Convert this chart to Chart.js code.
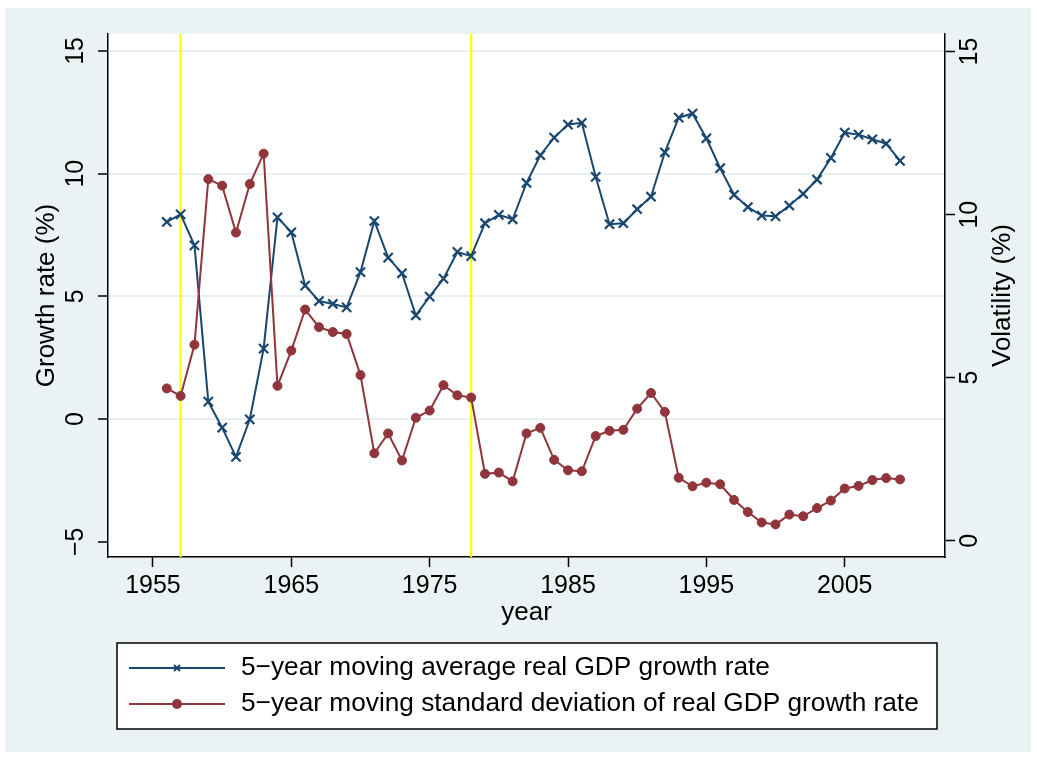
<!DOCTYPE html>
<html>
<head>
<meta charset="utf-8">
<script src="https://cdn.jsdelivr.net/npm/chart.js@4.4.1/dist/chart.umd.min.js"></script>
<style>
  html, body { margin: 0; padding: 0; background: #fff; }
  #wrap { width: 1037px; height: 758px; }
</style>
</head>
<body>
<div id="wrap"><canvas id="gdp" width="1037" height="758"></canvas></div>
<script>
// Years covered by the moving-window statistics
const years = [
  1956, 1957, 1958, 1959, 1960, 1961, 1962, 1963, 1964, 1965,
  1966, 1967, 1968, 1969, 1970, 1971, 1972, 1973, 1974, 1975,
  1976, 1977, 1978, 1979, 1980, 1981, 1982, 1983, 1984, 1985,
  1986, 1987, 1988, 1989, 1990, 1991, 1992, 1993, 1994, 1995,
  1996, 1997, 1998, 1999, 2000, 2001, 2002, 2003, 2004, 2005,
  2006, 2007, 2008, 2009
];

// 5-year moving average of real GDP growth (%), left axis
const avgGrowth = [
  8.03, 8.34, 7.08, 0.71, -0.35, -1.54, -0.01, 2.87, 8.22, 7.61,
  5.44, 4.81, 4.69, 4.55, 5.99, 8.07, 6.58, 5.94, 4.23, 4.99,
  5.72, 6.81, 6.64, 7.98, 8.32, 8.14, 9.62, 10.75, 11.47, 12.00,
  12.07, 9.87, 7.94, 7.98, 8.55, 9.06, 10.87, 12.28, 12.45, 11.44,
  10.22, 9.14, 8.64, 8.29, 8.26, 8.70, 9.18, 9.76, 10.64, 11.67,
  11.59, 11.40, 11.22, 10.52
];

// 5-year moving standard deviation of real GDP growth (%), right axis
const volatility = [
  4.67, 4.44, 6.01, 11.09, 10.89, 9.45, 10.94, 11.87, 4.75, 5.83,
  7.09, 6.55, 6.40, 6.34, 5.08, 2.68, 3.29, 2.46, 3.77, 3.99,
  4.77, 4.46, 4.39, 2.05, 2.09, 1.82, 3.29, 3.46, 2.48, 2.16,
  2.13, 3.21, 3.37, 3.40, 4.05, 4.53, 3.95, 1.93, 1.67, 1.78,
  1.73, 1.25, 0.88, 0.56, 0.50, 0.80, 0.75, 1.00, 1.23, 1.60,
  1.68, 1.86, 1.92, 1.88
];

// Axis ticks and their labels
const xTicks = [1955, 1965, 1975, 1985, 1995, 2005];
const leftTicks = [-5, 0, 5, 10, 15];
const leftTickLabels = ['\u22125', '0', '5', '10', '15'];
const rightTicks = [0, 5, 10, 15];
const rightTickLabels = ['0', '5', '10', '15'];

// Years highlighted with vertical reference lines
const markedYears = [1957, 1978];

const seriesNames = [
  '5\u2212year moving average real GDP growth rate',
  '5\u2212year moving standard deviation of real GDP growth rate'
];
const axisTitles = { x: 'year', left: 'Growth rate (%)', right: 'Volatility (%)' };

const FONT = "'Liberation Sans', Arial, Helvetica, sans-serif";
const NAVY = '#1a476f';
const MAROON = '#90353b';
const BACK = 'rgb(234,242,243)';
const GRID = 'rgb(232,240,242)';

Chart.defaults.font.family = FONT;
Chart.defaults.color = '#000';

// Outer graph region and white plot region
const framePlugin = {
  id: 'frame',
  beforeDraw(chart) {
    const { ctx, chartArea: a } = chart;
    ctx.save();
    ctx.fillStyle = '#fff';
    ctx.fillRect(0, 0, chart.width, chart.height);
    ctx.fillStyle = BACK;
    ctx.fillRect(5, 8, 1026, 744);
    ctx.fillStyle = '#fff';
    ctx.fillRect(a.left, a.top, a.right - a.left, a.bottom - a.top);
    ctx.restore();
  }
};

// Yellow vertical lines at the highlighted years
const refLinePlugin = {
  id: 'refLines',
  beforeDatasetsDraw(chart) {
    const { ctx, chartArea: a, scales } = chart;
    ctx.save();
    ctx.strokeStyle = '#ffff00';
    ctx.lineWidth = 2.2;
    markedYears.forEach(yr => {
      const x = scales.x.getPixelForValue(yr);
      ctx.beginPath();
      ctx.moveTo(x, a.top);
      ctx.lineTo(x, a.bottom);
      ctx.stroke();
    });
    ctx.restore();
  }
};

// Vertical axis titles (both read bottom-to-top) and the boxed legend
const annotatePlugin = {
  id: 'annotate',
  afterDraw(chart) {
    const { ctx, chartArea: a } = chart;
    const midY = (a.top + a.bottom) / 2;
    ctx.save();
    ctx.fillStyle = '#000';
    ctx.font = '26px ' + FONT;
    ctx.textAlign = 'center';
    ctx.textBaseline = 'middle';
    [[47, axisTitles.left], [1003, axisTitles.right]].forEach(([x, t]) => {
      ctx.save();
      ctx.translate(x, midY);
      ctx.rotate(-Math.PI / 2);
      ctx.fillText(t, 0, 0);
      ctx.restore();
    });

    // legend box
    const box = { l: 117, t: 643, r: 937, b: 729 };
    ctx.fillStyle = '#fff';
    ctx.fillRect(box.l, box.t, box.r - box.l, box.b - box.t);
    ctx.strokeStyle = '#000';
    ctx.lineWidth = 1.5;
    ctx.strokeRect(box.l, box.t, box.r - box.l, box.b - box.t);

    ctx.font = '26.25px ' + FONT;
    const rows = [668, 704];
    chart.data.datasets.forEach((ds, i) => {
      const y = rows[i];
      ctx.strokeStyle = ds.borderColor;
      ctx.lineWidth = 2;
      ctx.beginPath();
      ctx.moveTo(129, y);
      ctx.lineTo(225, y);
      ctx.stroke();
      if (ds.pointStyle === 'crossRot') {
        const h = 3;
        ctx.lineWidth = 2;
        ctx.beginPath();
        ctx.moveTo(177 - h, y - h); ctx.lineTo(177 + h, y + h);
        ctx.moveTo(177 - h, y + h); ctx.lineTo(177 + h, y - h);
        ctx.stroke();
      } else {
        ctx.fillStyle = ds.borderColor;
        ctx.beginPath();
        ctx.arc(177, y, 5, 0, Math.PI * 2);
        ctx.fill();
      }
      ctx.fillStyle = '#000';
      ctx.textAlign = 'left';
      ctx.textBaseline = 'middle';
      ctx.fillText(ds.label, 241, y);
    });
    ctx.restore();
  }
};

const tickFont = { family: FONT, size: 25 };

new Chart(document.getElementById('gdp'), {
  type: 'line',
  data: {
    datasets: [
      {
        label: seriesNames[0],
        data: years.map((yr, i) => ({ x: yr, y: avgGrowth[i] })),
        yAxisID: 'y',
        borderColor: NAVY,
        backgroundColor: NAVY,
        borderWidth: 2,
        pointStyle: 'crossRot',
        pointRadius: 6.5,
        pointBorderWidth: 2.2,
        pointBorderColor: NAVY,
        tension: 0,
        order: 2
      },
      {
        label: seriesNames[1],
        data: years.map((yr, i) => ({ x: yr, y: volatility[i] })),
        yAxisID: 'y1',
        borderColor: MAROON,
        backgroundColor: MAROON,
        borderWidth: 2,
        pointStyle: 'circle',
        pointRadius: 4.5,
        pointBorderWidth: 1,
        pointBorderColor: MAROON,
        pointBackgroundColor: MAROON,
        tension: 0,
        order: 1
      }
    ]
  },
  options: {
    responsive: false,
    animation: false,
    events: [],
    layout: { padding: { top: 34, left: 0, right: 0, bottom: 0 } },
    plugins: { legend: { display: false }, tooltip: { enabled: false }, title: { display: false } },
    scales: {
      x: {
        type: 'linear',
        position: 'bottom',
        min: 1951.75,
        max: 2012.25,
        afterBuildTicks: s => { s.ticks = xTicks.map(v => ({ value: v })); },
        afterFit: s => { s.height = 201; },
        grid: { drawOnChartArea: false, drawTicks: true, tickLength: 10, tickColor: '#000', tickWidth: 1.5 },
        border: { display: true, color: '#000', width: 1.5 },
        ticks: { font: tickFont, color: '#000', maxRotation: 0, minRotation: 0, padding: 4, callback: v => String(v) },
        title: { display: true, text: axisTitles.x, font: { family: FONT, size: 26 }, color: '#000', padding: { top: 0, bottom: 130 } }
      },
      y: {
        position: 'left',
        min: -5.62,
        max: 15.69,
        afterBuildTicks: s => { s.ticks = leftTicks.map(v => ({ value: v })); },
        afterFit: s => { s.width = 108; },
        grid: {
          color: c => (c.tick && c.tick.value === leftTicks[0]) ? 'rgba(0,0,0,0)' : GRID,
          lineWidth: 2,
          drawTicks: true,
          tickLength: 10,
          tickColor: '#000',
          tickWidth: 1.5
        },
        border: { display: true, color: '#000', width: 1.5 },
        ticks: {
          font: tickFont, color: '#000', minRotation: 90, maxRotation: 90,
          crossAlign: 'center', padding: 8,
          callback: v => leftTickLabels[leftTicks.indexOf(v)]
        }
      },
      y1: {
        position: 'right',
        min: -0.5,
        max: 15.54,
        afterBuildTicks: s => { s.ticks = rightTicks.map(v => ({ value: v })); },
        afterFit: s => { s.width = 92; },
        grid: { drawOnChartArea: false, drawTicks: true, tickLength: 10, tickColor: '#000', tickWidth: 1.5 },
        border: { display: true, color: '#000', width: 1.5 },
        ticks: {
          font: tickFont, color: '#000', minRotation: 90, maxRotation: 90,
          crossAlign: 'center', padding: 1,
          callback: v => rightTickLabels[rightTicks.indexOf(v)]
        }
      }
    }
  },
  plugins: [framePlugin, refLinePlugin, annotatePlugin]
});
</script>
</body>
</html>
